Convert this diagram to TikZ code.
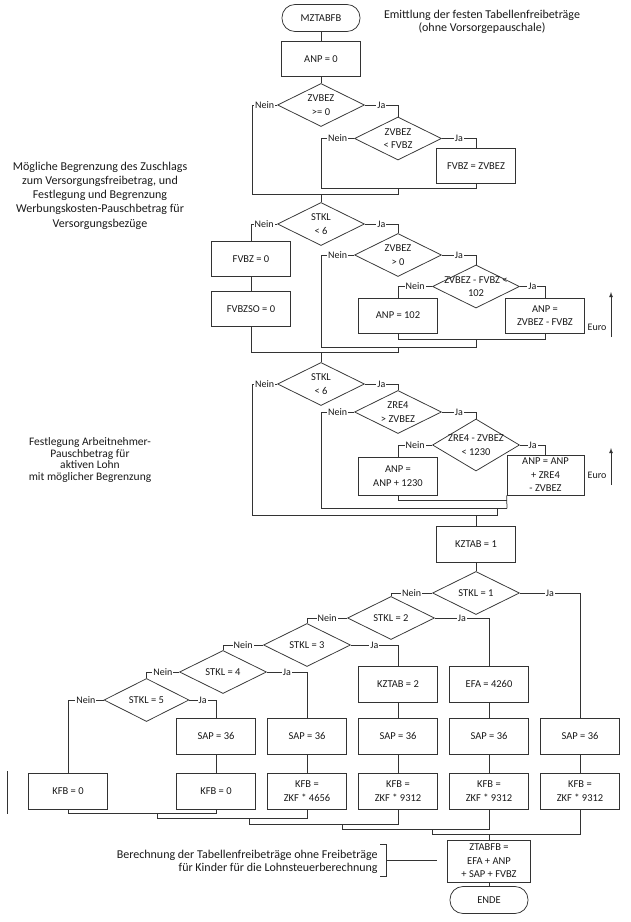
\documentclass[tikz,border=0pt]{standalone}
\usepackage{fontspec}
\setmainfont{Carlito}
\usetikzlibrary{shapes.geometric,arrows}

\begin{document}
\begin{tikzpicture}[x=1pt,y=-1pt,black!80,line width=.75pt,
every node/.style={font=\fontsize{10.5}{13.5}\selectfont,text=black!90},
box/.style={draw,minimum width=79pt,minimum height=35pt,inner sep=1pt,align=center},
dec/.style={draw,diamond,minimum width=87pt,minimum height=43pt,inner sep=0pt},
term/.style={draw,rounded corners=13pt,minimum width=78pt,minimum height=27pt},
lab/.style={fill=white,inner sep=1pt,pos=.25,font=\fontsize{10}{12}\selectfont}]
\useasboundingbox (0,0) rectangle (630,922);

% Kopf
\node[term] (start) at (321,18) {MZTABFB};
\node[align=center,font=\fontsize{12}{13}\selectfont] (titel) at (482,21.5) {Emittlung der festen Tabellenfreibeträge\\(ohne Vorsorgepauschale)};
\node[box] (anp0) at (321,59) {ANP = 0};
\node[dec,label={[align=center]center:ZVBEZ\\>= 0}] (dz1) at (321,105) {};
\node[dec,label={[align=center]center:ZVBEZ\\< FVBZ}] (dz2) at (398,138.5) {};
\node[box] (fvbz) at (476,166) {FVBZ = ZVBEZ};
\coordinate (m1a) at (321,188); \coordinate (m1b) at (476,188);
\coordinate (m1c) at (398,188); \coordinate (m1d) at (398,194);
\coordinate (m1e) at (252,194); \coordinate (m1f) at (321,194);
\draw (start) -- (anp0);
\draw (anp0) -- (dz1);
\draw (dz1.west) -| node[lab]{Nein} (m1e) -- (m1d) -- (m1c);
\draw (dz1.east) -| node[lab]{Ja} (dz2.north);
\draw (dz2.west) -| node[lab]{Nein} (m1a) -- (m1b) -- (fvbz.south);
\draw (dz2.east) -| node[lab]{Ja} (fvbz.north);

% Versorgungsbezuege
\node[align=center,font=\fontsize{12}{14.3}\selectfont] (anm1) at (100,195.5) {Mögliche Begrenzung des Zuschlags\\zum Versorgungsfreibetrag, und\\Festlegung und Begrenzung\\Werbungskosten-Pauschbetrag für\\Versorgungsbezüge};
\node[dec,label={[align=center]center:STKL\\< 6}] (dk1) at (321,224) {};
\node[box] (fvbz0) at (251,259) {FVBZ = 0};
\node[box] (fvbzso) at (251,309) {FVBZSO = 0};
\node[dec,label={[align=center]center:ZVBEZ\\> 0}] (dz3) at (398,255) {};
\node[dec,label={[align=center]center:ZVBEZ - FVBZ <\\102}] (dd1) at (476,286.5) {};
\node[box] (anp102) at (398,315.5) {ANP = 102};
\node[box] (anpd) at (545,315.5) {ANP =\\ZVBEZ - FVBZ};
\coordinate (m2b) at (545,339.3); \coordinate (m2c) at (476,339.3);
\coordinate (m2d) at (476,347.7); \coordinate (m2e) at (321,347.7);
\coordinate (m2f) at (398,347.7); \coordinate (m2g) at (398,352);
\coordinate (m2i) at (321,352);
\draw (m1f) -- (dk1.north);
\draw (dk1.west) -| node[lab]{Nein} (fvbz0.north);
\draw (fvbz0) -- (fvbzso);
\draw (fvbzso.south) |- (m2g) -- (m2f);
\draw (dk1.east) -| node[lab]{Ja} (dz3.north);
\draw (dz3.west) -| node[lab]{Nein} (m2e) -- (m2d) -- (m2c);
\draw (dz3.east) -| node[lab]{Ja} (dd1.north);
\draw (dd1.west) -| node[lab]{Nein} (anp102.north);
\draw (dd1.east) -| node[lab]{Ja} (anpd.north);
\draw (anp102.south) |- (m2b) -- (anpd.south);
\node[font=\fontsize{10}{12}\selectfont] (euro1) at (597,327) {Euro};
\coordinate (e1a) at (611,337); \coordinate (e1b) at (611,292);
\draw[-latex] (e1a) -- (e1b);

% aktiver Lohn
\node[align=center,font=\fontsize{11.5}{11.8}\selectfont] (anm2) at (90,460) {Festlegung Arbeitnehmer-\\Pauschbetrag für\\aktiven Lohn\\mit möglicher Begrenzung};
\node[dec,label={[align=center]center:STKL\\< 6}] (dk2) at (321,384) {};
\node[dec,label={[align=center]center:ZRE4\\> ZVBEZ}] (dz4) at (398,412) {};
\node[dec,minimum height=52pt,label={[align=center]center:ZRE4 - ZVBEZ\\< 1230}] (dd2) at (476,445) {};
\node[box,minimum height=38pt] (anp1230) at (398,476) {ANP =\\ANP + 1230};
\node[box,minimum width=77pt,minimum height=40pt] (anp3) at (545.5,475) {ANP = ANP\\+ ZRE4\\- ZVBEZ};
\coordinate (m3a) at (507,500); \coordinate (m3b) at (507,508.3);
\coordinate (m3c) at (321,508.3); \coordinate (m3d) at (497,508.3);
\coordinate (m3e) at (497,515); \coordinate (m3f) at (252,515);
\coordinate (m3g) at (476,515);
\draw (m2i) -- (dk2.north);
\draw (dk2.west) -| node[lab]{Nein} (m3f) -- (m3e) -- (m3d);
\draw (dk2.east) -| node[lab]{Ja} (dz4.north);
\draw (dz4.west) -| node[lab]{Nein} (m3c) -- (m3b);
\draw (dz4.east) -| node[lab]{Ja} (dd2.north);
\draw (dd2.west) -| node[lab]{Nein} (anp1230.north);
\draw (dd2.east) -| node[lab]{Ja} (anp3.north);
\draw (anp1230.south) |- (m3a);
\draw (anp3.south west) -- (m3b);
\node[font=\fontsize{10}{12}\selectfont] (euro2) at (597,475) {Euro};
\coordinate (e2a) at (611,485); \coordinate (e2b) at (611,448);
\draw[-latex] (e2a) -- (e2b);

% Steuerklassen
\node[box,minimum height=36pt] (kztab1) at (476,544) {KZTAB = 1};
\node[dec,label={center:STKL = 1}] (dk3) at (476,593) {};
\node[dec,label={center:STKL = 2}] (dk4) at (391,618) {};
\node[dec,label={center:STKL = 3}] (dk5) at (307,645) {};
\node[dec,label={center:STKL = 4}] (dk6) at (223,672) {};
\node[dec,minimum width=85pt,label={center:STKL = 5}] (dk7) at (146.5,700) {};
\node[box,minimum height=36pt] (kztab2) at (398,684) {KZTAB = 2};
\node[box,minimum height=36pt] (efa) at (489,684) {EFA = 4260};
\foreach \n/\x in {2/216,3/307,4/398,5/489,6/580}
  \node[box,minimum height=36pt] (sap\n) at (\x,736) {SAP = 36};
\node[box,minimum height=36pt] (kfb1) at (68,791) {KFB = 0};
\node[box,minimum height=36pt] (kfb2) at (216,791) {KFB = 0};
\node[box,minimum height=36pt] (kfb3) at (307,791) {KFB =\\ZKF * 4656};
\foreach \n/\x in {4/398,5/489,6/580}
  \node[box,minimum height=36pt] (kfb\n) at (\x,791) {KFB =\\ZKF * 9312};
\draw (m3g) -- (kztab1.north);
\draw (kztab1) -- (dk3);
\draw (dk3.west) -| node[lab]{Nein} (dk4.north);
\draw (dk3.east) -| node[lab]{Ja} (sap6.north);
\draw (dk4.west) -| node[lab]{Nein} (dk5.north);
\draw (dk4.east) -| node[lab]{Ja} (efa.north);
\draw (dk5.west) -| node[lab]{Nein} (dk6.north);
\draw (dk5.east) -| node[lab]{Ja} (kztab2.north);
\draw (dk6.west) -| node[lab]{Nein} (dk7.north);
\draw (dk6.east) -| node[lab]{Ja} (sap3.north);
\draw (dk7.west) -| node[lab]{Nein} (kfb1.north);
\draw (dk7.east) -| node[lab]{Ja} (sap2.north);
\draw (kztab2) -- (sap4);
\draw (efa) -- (sap5);
\foreach \n in {2,...,6}
  \draw (sap\n) -- (kfb\n);

% Zusammenfuehrung
\coordinate (n2) at (216,813); \coordinate (n3) at (157,813);
\coordinate (n4) at (157,818); \coordinate (n5) at (307,818);
\coordinate (n6) at (249,818); \coordinate (n7) at (249,824);
\coordinate (n8) at (398,824); \coordinate (n9) at (342,824);
\coordinate (n10) at (342,829); \coordinate (n11) at (489,829);
\coordinate (n12) at (432,829); \coordinate (n13) at (432,834);
\coordinate (n14) at (580,834); \coordinate (n15) at (489,834);
\draw (kfb1.south) |- (n2) -- (kfb2.south);
\draw (n3) -- (n4) -- (n5) -- (kfb3.south);
\draw (n6) -- (n7) -- (n8) -- (kfb4.south);
\draw (n9) -- (n10) -- (n11) -- (kfb5.south);
\draw (n12) -- (n13) -- (n14) -- (kfb6.south);
\coordinate (s1) at (7,771); \coordinate (s2) at (7,814);
\draw (s1) -- (s2);

% Ende
\node[box,minimum width=83pt,minimum height=42pt] (ztab) at (489,861) {ZTABFB =\\EFA + ANP\\+ SAP + FVBZ};
\node[term] (ende) at (489,900) {ENDE};
\draw (n15) -- (ztab.north);
\draw (ztab) -- (ende);
\node[anchor=east,align=right,inner sep=0pt,font=\fontsize{12}{13.5}\selectfont] (anm3) at (378,862) {Berechnung der Tabellenfreibeträge ohne Freibeträge\\für Kinder für die Lohnsteuerberechnung};
\coordinate (k1) at (380,844); \coordinate (k2) at (386,844);
\coordinate (k3) at (386,876); \coordinate (k4) at (380,876);
\coordinate (k5) at (386,860); \coordinate (k6) at (437,860);
\draw (k1) -- (k2) -- (k3) -- (k4);
\draw (k5) -- (k6);
\end{tikzpicture}
\end{document}
